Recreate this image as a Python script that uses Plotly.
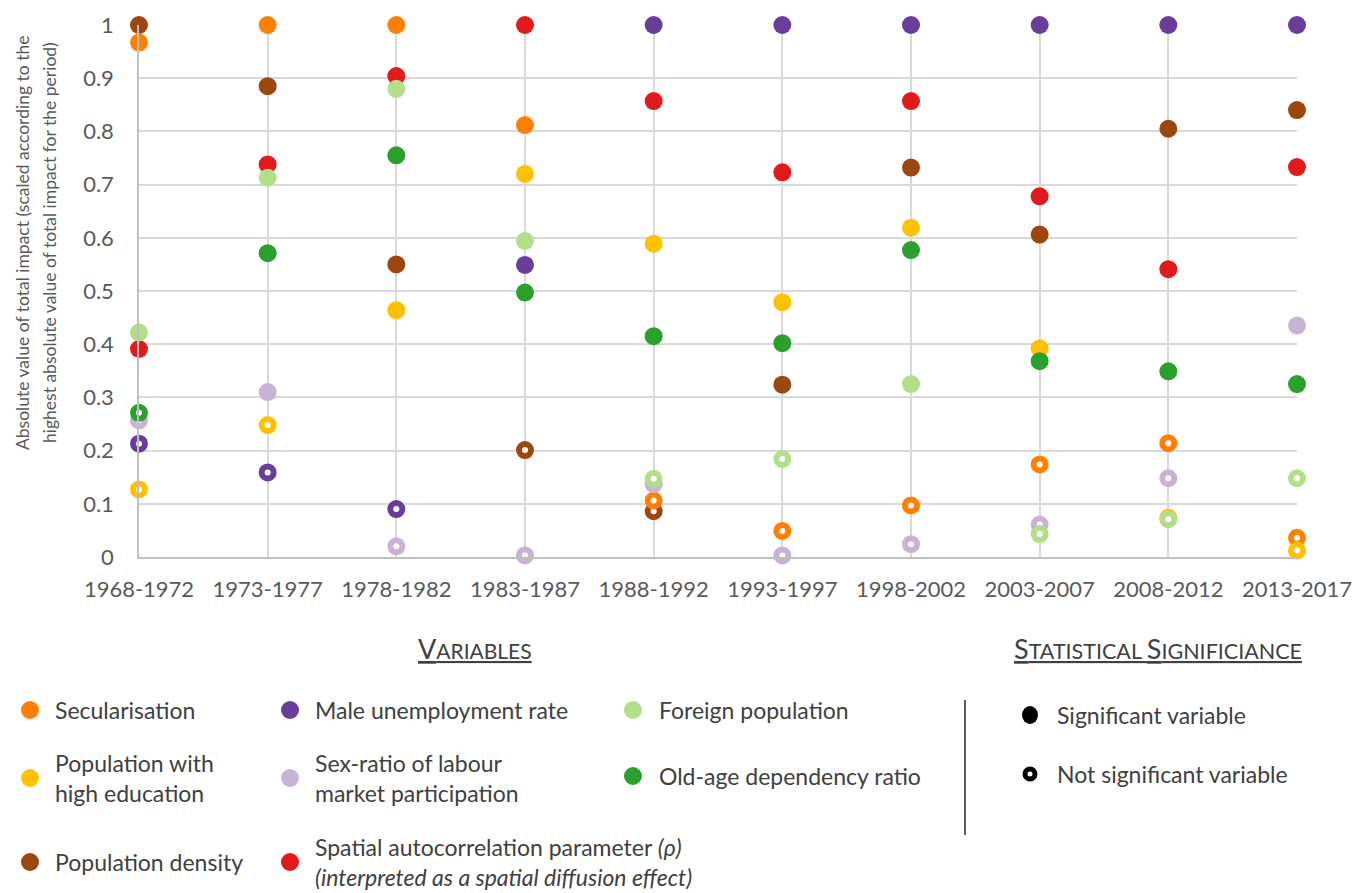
import plotly.graph_objects as go

periods = ["1968-1972", "1973-1977", "1978-1982", "1983-1987", "1988-1992",
           "1993-1997", "1998-2002", "2003-2007", "2008-2012", "2013-2017"]

secularisation = [0.967, 1.0, 1.0, 0.812, 0.106, 0.049, 0.097, 0.174, 0.214, 0.036]
secularisation_sig = [1, 1, 1, 1, 0, 0, 0, 0, 0, 0]

high_education = [0.127, 0.248, 0.464, 0.720, 0.589, 0.479, 0.619, 0.392, 0.074, 0.012]
high_education_sig = [0, 0, 1, 1, 1, 1, 1, 1, 0, 0]

pop_density = [1.0, 0.885, 0.550, 0.201, 0.086, 0.324, 0.732, 0.606, 0.805, 0.840]
pop_density_sig = [1, 1, 1, 0, 0, 1, 1, 1, 1, 1]

male_unemployment = [0.213, 0.159, 0.090, 0.549, 1.0, 1.0, 1.0, 1.0, 1.0, 1.0]
male_unemployment_sig = [0, 0, 0, 1, 1, 1, 1, 1, 1, 1]

sex_ratio = [0.257, 0.310, 0.020, 0.003, 0.137, 0.003, 0.024, 0.061, 0.148, 0.435]
sex_ratio_sig = [0, 1, 0, 0, 0, 0, 0, 0, 0, 1]

spatial_rho = [0.391, 0.738, 0.904, 1.0, 0.857, 0.723, 0.857, 0.678, 0.541, 0.733]
spatial_rho_sig = [1, 1, 1, 1, 1, 1, 1, 1, 1, 1]

foreign_pop = [0.422, 0.713, 0.880, 0.594, 0.147, 0.184, 0.325, 0.043, 0.071, 0.148]
foreign_pop_sig = [1, 1, 1, 1, 0, 0, 1, 0, 0, 0]

old_age = [0.271, 0.571, 0.755, 0.497, 0.415, 0.402, 0.577, 0.368, 0.349, 0.325]
old_age_sig = [0, 1, 1, 1, 1, 1, 1, 1, 1, 1]

series = [
    ("Population density", pop_density, pop_density_sig, "#9C470F"),
    ("Secularisation", secularisation, secularisation_sig, "#FF7F00"),
    ("Population with high education", high_education, high_education_sig, "#FFC000"),
    ("Male unemployment rate", male_unemployment, male_unemployment_sig, "#6A3D9A"),
    ("Sex-ratio of labour market participation", sex_ratio, sex_ratio_sig, "#C9B2D6"),
    ("Spatial autocorrelation parameter", spatial_rho, spatial_rho_sig, "#E31A1C"),
    ("Foreign population", foreign_pop, foreign_pop_sig, "#B2DF8A"),
    ("Old-age dependency ratio", old_age, old_age_sig, "#2CA02C"),
]

W, H = 1352, 893
L, R, T, B = 139, 1297, 25, 557  # plot area pixel bounds in the page

fig = go.Figure()
for name, vals, sig, col in series:
    fig.add_trace(go.Scatter(
        x=periods, y=vals, mode="markers", name=name, cliponaxis=False,
        marker=dict(
            symbol="circle", opacity=1,
            size=[18 if s else 12 for s in sig],
            color=[col if s else "white" for s in sig],
            line=dict(color=col, width=[0 if s else 6 for s in sig]),
        ),
        showlegend=False,
    ))

def px(xp):
    return (xp - L) / (R - L)

def py(yp):
    return (B - yp) / (B - T)

font_main = "Lato, 'Open Sans', sans-serif"
txtcol = "#404040"
LFS = 23

annotations = []
shapes = []

# y axis title (two lines)
for xline, line in [(22, "Absolute value of total impact (scaled according to the"),
                    (49, "highest absolute value of total impact for the period)")]:
    annotations.append(dict(
        text=line, xref="paper", yref="paper", x=px(xline), y=py(243), textangle=-90,
        showarrow=False, font=dict(family=font_main, size=17.5, color="#595959"),
        xanchor="center", yanchor="middle",
    ))

# headers
annotations.append(dict(
    text="<u>V<span style='font-size:21px'>ARIABLES</span></u>",
    xref="paper", yref="paper", x=px(475), y=py(648), showarrow=False,
    font=dict(family=font_main, size=27, color=txtcol), xanchor="center", yanchor="middle",
))
annotations.append(dict(
    text="<u>S<span style='font-size:21.5px'>TATISTICAL </span>S<span style='font-size:21.5px'>IGNIFICIANCE</span></u>",
    xref="paper", yref="paper", x=px(1158), y=py(648), showarrow=False,
    font=dict(family=font_main, size=27, color=txtcol), xanchor="center", yanchor="middle",
))

legend_items = [
    (30, 710, 53, "Secularisation", "#FF7F00"),
    (30, 778, 53, "Population with<br>high education", "#FFC000"),
    (30, 862, 53, "Population density", "#9C470F"),
    (290, 710, 313, "Male unemployment rate", "#6A3D9A"),
    (290, 778, 313, "Sex-ratio of labour<br>market participation", "#C9B2D6"),
    (290, 862, 313, "Spatial autocorrelation parameter <i>(ρ)</i><br><i>(interpreted as a spatial diffusion effect)</i>", "#E31A1C"),
    (633, 710, 657, "Foreign population", "#B2DF8A"),
    (633, 776, 657, "Old-age dependency ratio", "#2CA02C"),
]

for mx, my, tx, label, col in legend_items:
    shapes.append(dict(
        type="circle", xref="paper", yref="paper", xsizemode="pixel", ysizemode="pixel",
        xanchor=px(mx), yanchor=py(my), x0=-9, x1=9, y0=-9, y1=9,
        fillcolor=col, line=dict(width=0),
    ))
    annotations.append(dict(
        text=label, xref="paper", yref="paper", x=px(tx), y=py(my), showarrow=False,
        font=dict(family=font_main, size=LFS, color=txtcol), xanchor="left", yanchor="middle",
        align="left",
    ))

# significance legend
shapes.append(dict(
    type="circle", xref="paper", yref="paper", xsizemode="pixel", ysizemode="pixel",
    xanchor=px(1030), yanchor=py(715), x0=-8, x1=8, y0=-9, y1=9,
    fillcolor="black", line=dict(width=0),
))
shapes.append(dict(
    type="circle", xref="paper", yref="paper", xsizemode="pixel", ysizemode="pixel",
    xanchor=px(1030), yanchor=py(774), x0=-5, x1=5, y0=-5, y1=5,
    fillcolor="white", line=dict(width=5, color="black"),
))
annotations.append(dict(
    text="Significant variable", xref="paper", yref="paper", x=px(1055), y=py(715),
    showarrow=False, font=dict(family=font_main, size=LFS, color=txtcol), xanchor="left", yanchor="middle",
))
annotations.append(dict(
    text="Not significant variable", xref="paper", yref="paper", x=px(1055), y=py(774),
    showarrow=False, font=dict(family=font_main, size=LFS, color=txtcol), xanchor="left", yanchor="middle",
))

# divider
shapes.append(dict(
    type="line", xref="paper", yref="paper", x0=px(965), x1=px(965), y0=py(700), y1=py(835),
    line=dict(color="#262626", width=1.5),
))

fig.update_layout(
    width=W, height=H,
    margin=dict(l=L, r=W - R, t=T, b=H - B, autoexpand=False),
    plot_bgcolor="white", paper_bgcolor="white",
    font=dict(family=font_main, color="#595959"),
    annotations=annotations, shapes=shapes,
)
fig.update_xaxes(
    type="category", categoryorder="array", categoryarray=periods,
    range=[0, 9], showgrid=True, gridcolor="#D9D9D9", gridwidth=1.5,
    showline=True, linecolor="#BFBFBF", linewidth=1.5, automargin=False,
    ticks="", tickfont=dict(family=font_main, size=22, color="#595959"),
    ticklabelstandoff=12, zeroline=False,
)
fig.update_yaxes(
    range=[0, 1], dtick=0.1, tick0=0, showgrid=True, gridcolor="#D9D9D9", gridwidth=1.5,
    showline=True, linecolor="#BFBFBF", linewidth=1.5, zeroline=False, automargin=False,
    ticks="", tickfont=dict(family=font_main, size=22, color="#595959"),
    ticklabelstandoff=19,
)

fig.write_html("out.html", config={"displayModeBar": False},
               post_script="document.body.style.margin='0';document.body.style.overflow='hidden';")
